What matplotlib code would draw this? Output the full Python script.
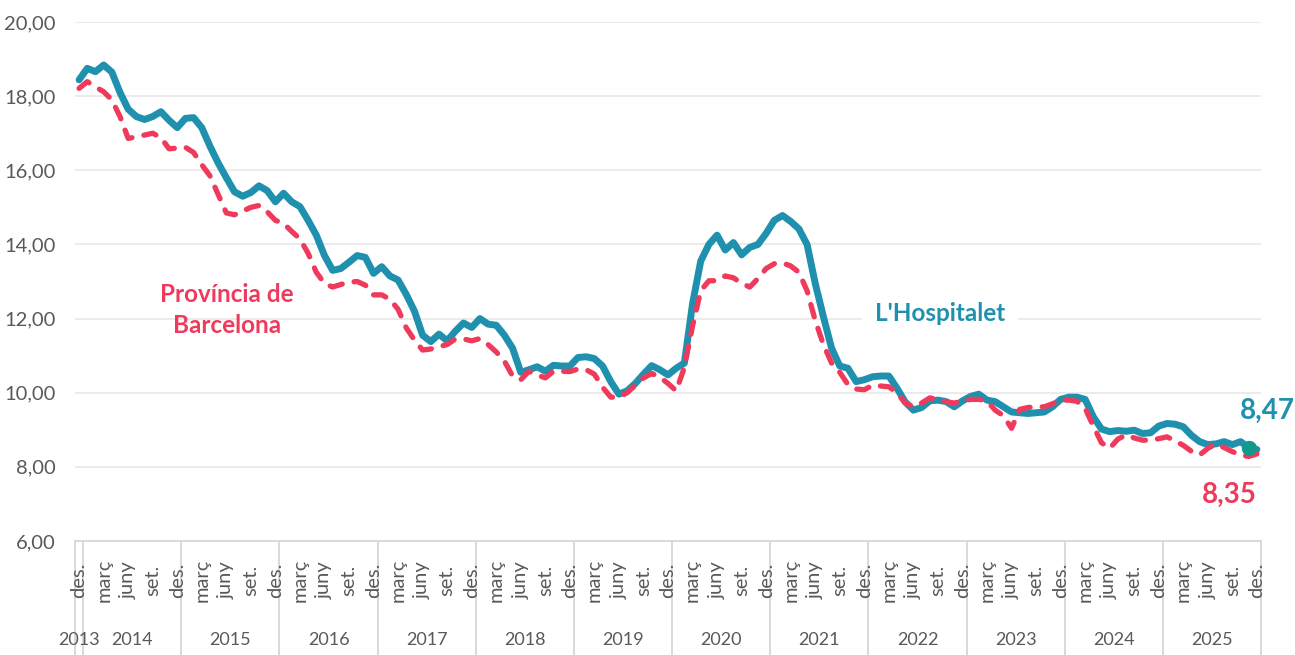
import numpy as np
import matplotlib
matplotlib.use('Agg')
import matplotlib.pyplot as plt
import matplotlib.transforms as mtrans

plt.rcParams['font.family'] = ['Lato', 'DejaVu Sans']

# monthly series, des. 2013 -> des. 2025
hosp_2013 = [18.44]
hosp = hosp_2013 + [
	18.75, 18.66, 18.84, 18.65, 18.10, 17.65, 17.45, 17.37, 17.45, 17.58, 17.35, 17.15,   # 2014
	17.40, 17.42, 17.15, 16.65, 16.20, 15.80, 15.42, 15.30, 15.40, 15.58, 15.45, 15.15,   # 2015
	15.38, 15.15, 15.02, 14.65, 14.25, 13.70, 13.30, 13.35, 13.52, 13.70, 13.65, 13.22,   # 2016
	13.40, 13.15, 13.04, 12.65, 12.20, 11.55, 11.38, 11.58, 11.40, 11.66, 11.88, 11.76,   # 2017
	12.00, 11.85, 11.82, 11.55, 11.20, 10.55, 10.62, 10.70, 10.58, 10.74, 10.72, 10.72,   # 2018
	10.95, 10.97, 10.92, 10.72, 10.30,  9.96, 10.05, 10.25, 10.50, 10.73, 10.62, 10.48,   # 2019
	10.66, 10.80, 12.40, 13.55, 14.00, 14.25, 13.85, 14.05, 13.72, 13.92, 14.00, 14.30,   # 2020
	14.65, 14.78, 14.62, 14.42, 14.00, 12.95, 12.05, 11.20, 10.72, 10.66, 10.30, 10.35,   # 2021
	10.43, 10.45, 10.45, 10.12,  9.75,  9.53,  9.60,  9.78,  9.80,  9.76,  9.62,  9.78,   # 2022
	 9.90,  9.96,  9.80,  9.76,  9.62,  9.48,  9.46,  9.44,  9.46,  9.48,  9.62,  9.82,   # 2023
	 9.88,  9.88,  9.82,  9.35,  9.02,  8.95,  8.98,  8.96,  8.99,  8.90,  8.92,  9.10,   # 2024
	 9.17,  9.15,  9.08,  8.85,  8.68,  8.60,  8.62,  8.68,  8.60,  8.68,  8.52,  8.47,   # 2025
]

prov_2013 = [18.21]
prov = prov_2013 + [
	18.39, 18.25, 18.12, 17.90, 17.45, 16.86, 16.90, 16.95, 17.00, 16.88, 16.58, 16.60,
	16.62, 16.48, 16.15, 15.85, 15.35, 14.85, 14.80, 14.90, 15.00, 15.05, 14.88, 14.65,
	14.57, 14.35, 14.15, 13.76, 13.25, 12.95, 12.85, 12.92, 12.98, 13.00, 12.90, 12.64,
	12.64, 12.52, 12.25, 11.75, 11.42, 11.15, 11.18, 11.24, 11.30, 11.45, 11.45, 11.40,
	11.46, 11.30, 11.10, 10.85, 10.45, 10.35, 10.58, 10.48, 10.40, 10.58, 10.58, 10.57,
	10.64, 10.62, 10.50, 10.15,  9.88,  9.88, 10.00, 10.20, 10.40, 10.52, 10.42, 10.25,
	10.05, 10.68, 11.80, 12.75, 13.02, 13.02, 13.15, 13.10, 12.95, 12.85, 13.08, 13.35,
	13.48, 13.50, 13.42, 13.25, 12.75, 11.95, 11.30, 10.80, 10.55, 10.22, 10.10, 10.08,
	10.20, 10.18, 10.16, 10.00,  9.72,  9.62,  9.72,  9.86,  9.82,  9.76,  9.72,  9.78,
	 9.82,  9.82,  9.78,  9.53,  9.38,  9.04,  9.55,  9.60,  9.62,  9.62,  9.70,  9.80,
	 9.80,  9.77,  9.58,  9.10,  8.65,  8.50,  8.75,  8.86,  8.78,  8.72,  8.72,  8.76,
	 8.81,  8.70,  8.58,  8.42,  8.32,  8.50,  8.62,  8.52,  8.41,  8.32,  8.28,  8.35,
]

years      = [2013, 2014, 2015, 2016, 2017, 2018, 2019, 2020, 2021, 2022, 2023, 2024, 2025]
month_lbls = ['des.', 'març', 'juny', 'set.']
yticks     = [6, 8, 10, 12, 14, 16, 18, 20]

teal  = '#1f91ae'
red   = '#ef3a5c'
grey  = '#595959'

x = np.arange(len(hosp))

fig = plt.figure(figsize=(12.95, 6.55), dpi=100)
ax  = fig.add_axes([75/1295., 1-541/655., 1186/1295., 519/655.])

ax.plot(x, hosp, color=teal, lw=5.0, solid_capstyle='round', solid_joinstyle='round', zorder=3)
ax.plot(x, prov, color=red, lw=3.8, dashes=(2.4, 2.3), dash_capstyle='round', zorder=4)
ax.plot(x[-2], hosp[-2], 'o', color='#13998c', ms=10, zorder=5)

ax.set_xlim(-0.5, len(x)-0.5)
ax.set_ylim(6, 20)
ax.set_yticks(yticks)
ax.set_yticklabels(['%d,00' % v for v in yticks], fontsize=14.5, color=grey)
ax.tick_params(axis='y', length=0, pad=14)
ax.set_xticks([])
ax.grid(axis='y', color='#ebebeb', lw=1.4)
ax.set_axisbelow(True)
for s in ['left', 'right', 'top']:
	ax.spines[s].set_visible(False)
ax.spines['bottom'].set_color('#d9d9d9')
ax.spines['bottom'].set_linewidth(1.4)

# category axis: months, years and separators
tr = mtrans.blended_transform_factory(ax.transData, ax.transAxes)
for i in range(0, len(x), 3):
	ax.text(i, -39/519., month_lbls[(i//3) % 4], transform=tr, rotation=90,
		ha='center', va='center', fontsize=14.5, color=grey)

seps = [-0.5, 0.5] + [0.5 + 12*k for k in range(1, 13)]
for sx in seps:
	ax.plot([sx, sx], [0, -114/519.], transform=tr, color='#d9d9d9', lw=1.4, clip_on=False)

for k, yr in enumerate(years):
	cx = 0 if k == 0 else 12*(k-1) + 6.5
	ax.text(cx, -99/519., str(yr), transform=tr, ha='center', va='center', fontsize=13, color=grey)

# series labels
ax.text(226.7/1295., 1-310/655., 'Província de\nBarcelona', transform=fig.transFigure,
	ha='center', va='center', fontsize=17.5, fontweight='bold', color=red, linespacing=1.45)
ax.text(940/1295., 1-314/655., "L'Hospitalet", transform=fig.transFigure, ha='center', va='center',
	fontsize=17.5, fontweight='bold', color=teal, zorder=6,
	bbox=dict(facecolor='white', edgecolor='none', pad=9))
ax.text(1267/1295., 1-411/655., '8,47', transform=fig.transFigure, ha='center', va='center',
	fontsize=20, fontweight='bold', color=teal)
ax.text(1229/1295., 1-495/655., '8,35', transform=fig.transFigure, ha='center', va='center',
	fontsize=20, fontweight='bold', color=red)

fig.savefig('out.png', dpi=100)
